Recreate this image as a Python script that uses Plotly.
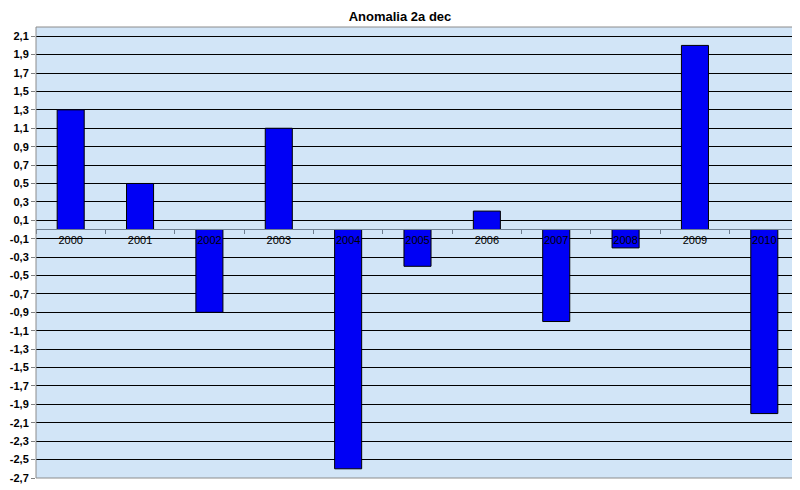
import plotly.graph_objects as go

years = ["2000", "2001", "2002", "2003", "2004", "2005", "2006", "2007", "2008", "2009", "2010"]
anomaly = [1.3, 0.5, -0.9, 1.1, -2.6, -0.4, 0.2, -1.0, -0.2, 2.0, -2.0]
y_ticks = [round(-2.7 + 0.2 * i, 1) for i in range(25)]
y_min, y_max = -2.7, 2.2

zero_pos = (0 - y_min) / (y_max - y_min)

# page body has an 8px default margin, so the figure is sized/positioned to compensate
W, H = 792, 482

fig = go.Figure(go.Bar(
    x=years, y=anomaly,
    marker=dict(color="#0000f5", line=dict(color="#000000", width=1)),
    width=0.39,
))

fig.update_layout(
    width=W, height=H,
    margin=dict(l=28, r=1, t=19, b=12),
    paper_bgcolor="white",
    plot_bgcolor="#d2e5f7",
    separators=",.",
    showlegend=False,
    title=dict(text="<b>Anomalia 2a dec</b>", x=(400 - 8) / W, xanchor="center",
               y=1 - 8 / H, yanchor="middle",
               font=dict(family="Arial, Liberation Sans", size=13, color="#000")),
    font=dict(family="Arial, Liberation Sans", size=11, color="#000"),
)

fig.update_xaxes(
    type="category", range=[-0.5, 10.5],
    anchor="free", position=zero_pos,
    showline=True, linecolor="#6f7f90", linewidth=1,
    ticks="outside", tickson="boundaries", ticklen=4, tickcolor="#6f7f90",
    showgrid=False, zeroline=False,
    tickfont=dict(family="Arial, Liberation Sans", size=11, color="#000"),
)

fig.update_yaxes(
    range=[y_min, y_max],
    tickvals=y_ticks,
    ticktext=["<b>" + f"{v:.1f}".replace(".", ",") + "</b>" for v in y_ticks],
    showgrid=True, gridcolor="#000000", gridwidth=1,
    zeroline=False,
    ticks="outside", ticklen=4, tickcolor="#808080",
    tickfont=dict(family="Arial, Liberation Sans", size=11, color="#000"),
)

fig.add_shape(type="rect", xref="paper", yref="paper", x0=0, x1=1, y0=0, y1=1,
              line=dict(color="#8c8c8c", width=1), fillcolor="rgba(0,0,0,0)", layer="above")

fig.write_html("out.html")
